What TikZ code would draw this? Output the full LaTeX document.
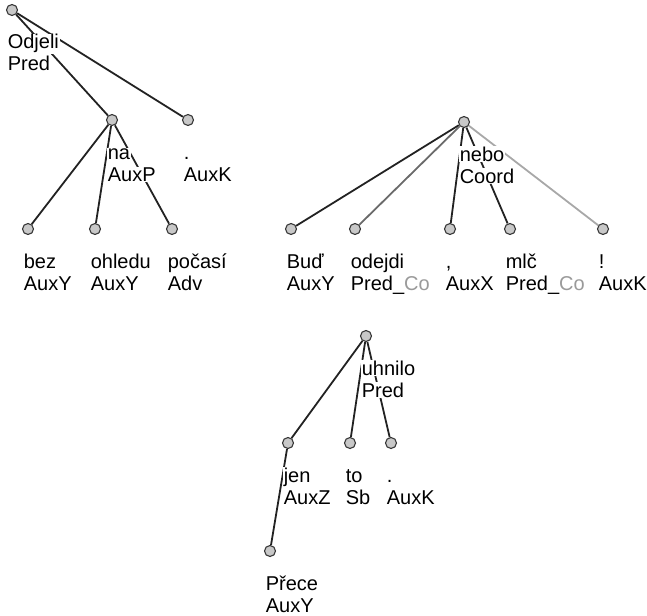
\documentclass[tikz,border=0pt]{standalone}
\usepackage{fontspec}
\setmainfont{Liberation Sans}
\usetikzlibrary{calc}

\definecolor{dotfill}{HTML}{C8C8C8}
\definecolor{dotline}{HTML}{383838}
\definecolor{edgeink}{HTML}{222222}
\definecolor{coordmid}{HTML}{6A6A6A}
\definecolor{coordlight}{HTML}{A8A8A8}
\definecolor{suffix}{HTML}{9A9A9A}

\tikzset{
  vtx/.style={circle, draw=dotline, fill=dotfill, line width=1.1pt,
              minimum size=11pt, inner sep=0pt},
  link/.style={draw=edgeink, line width=1.8pt},
  lbl/.style={fill=white, inner sep=0.6pt, anchor=base west,
              font=\fontsize{20}{22}\selectfont, text=black},
}

% two-line caption under a tree node: word form, then its function
\newcommand\wordlabel[3]{%
  \node[lbl] (#1w) at ($(#1)+(-5,39)$) {#2};
  \node[lbl] (#1f) at ($(#1)+(-5,61)$) {#3};
}

\begin{document}
\begin{tikzpicture}[x=1pt, y=-1pt]
\useasboundingbox (0,0) rectangle (647,615);

% ---- vertices ----
% first sentence
\node[vtx] (odjeli) at (12,10) {};
\node[vtx] (na)     at (112,120) {};
\node[vtx] (dotA)   at (188,120) {};
\node[vtx] (bez)    at (28,229) {};
\node[vtx] (ohledu) at (95,229) {};
\node[vtx] (pocasi) at (172,229) {};
% second sentence
\node[vtx] (nebo)   at (464,122) {};
\node[vtx] (bud)    at (291,229) {};
\node[vtx] (odejdi) at (355,229) {};
\node[vtx] (comma)  at (450,229) {};
\node[vtx] (mlc)    at (510,229) {};
\node[vtx] (excl)   at (603,229) {};
% third sentence
\node[vtx] (uhnilo) at (366,336) {};
\node[vtx] (jen)    at (288,443) {};
\node[vtx] (to)     at (350,443) {};
\node[vtx] (dotB)   at (391,443) {};
\node[vtx] (prece)  at (270,551) {};

% ---- dependency edges ----
\draw[link] (odjeli) -- (na);
\draw[link] (odjeli) -- (dotA);
\draw[link] (na) -- (bez);
\draw[link] (na) -- (ohledu);
\draw[link] (na) -- (pocasi);

\draw[link] (nebo) -- (bud);
\draw[link, draw=coordmid] (nebo) -- (odejdi);
\draw[link] (nebo) -- (comma);
\draw[link] (nebo) -- (mlc);
\draw[link, draw=coordlight] (nebo) -- (excl);

\draw[link] (uhnilo) -- (jen);
\draw[link] (uhnilo) -- (to);
\draw[link] (uhnilo) -- (dotB);
\draw[link] (jen) -- (prece);

% ---- captions (white boxes hide the edges behind them) ----
\wordlabel{odjeli}{Odjeli}{Pred}
\wordlabel{na}{na}{AuxP}
\wordlabel{dotA}{.}{AuxK}
\wordlabel{bez}{bez}{AuxY}
\wordlabel{ohledu}{ohledu}{AuxY}
\wordlabel{pocasi}{počasí}{Adv}

\wordlabel{nebo}{nebo}{Coord}
\wordlabel{bud}{Buď}{AuxY}
\wordlabel{odejdi}{odejdi}{Pred\_\textcolor{suffix}{Co}}
\wordlabel{comma}{,}{AuxX}
\wordlabel{mlc}{mlč}{Pred\_\textcolor{suffix}{Co}}
\wordlabel{excl}{!}{AuxK}

\wordlabel{uhnilo}{uhnilo}{Pred}
\wordlabel{jen}{jen}{AuxZ}
\wordlabel{to}{to}{Sb}
\wordlabel{dotB}{.}{AuxK}
\wordlabel{prece}{Přece}{AuxY}
\end{tikzpicture}
\end{document}
